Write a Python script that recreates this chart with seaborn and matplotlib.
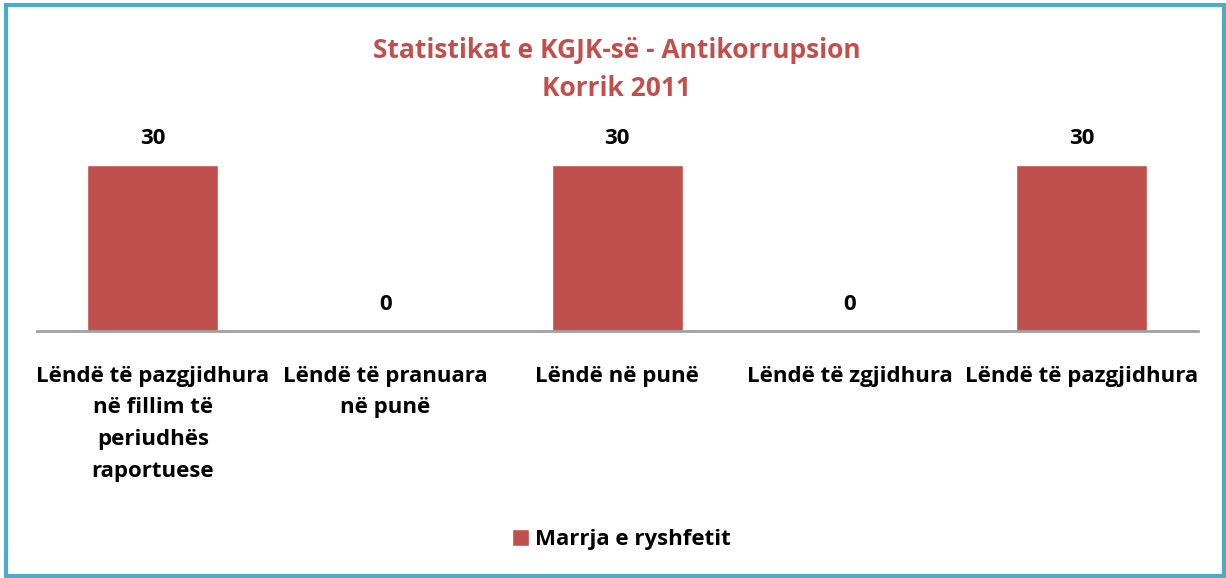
import pandas as pd
import matplotlib.pyplot as plt
import seaborn as sns
from matplotlib.patches import Rectangle

categories = [
    "Lëndë të pazgjidhura\nnë fillim të\nperiudhës\nraportuese",
    "Lëndë të pranuara\nnë punë",
    "Lëndë në punë",
    "Lëndë të zgjidhura",
    "Lëndë të pazgjidhura",
]
values = [30, 0, 30, 0, 30]
series_name = "Marrja e ryshfetit"

bar_color = "#C0504D"
frame_color = "#4BACC6"

sns.set_style("white")
plt.rcParams['font.family'] = ['Open Sans', 'DejaVu Sans']
plt.rcParams['text.color'] = 'black'
plt.rcParams['xtick.color'] = 'black'

df = pd.DataFrame({"Category": categories, "Value": values, "Series": series_name})

fig = plt.figure(figsize=(12.26, 5.78), dpi=100)
ax = fig.add_axes([0.030, 0.427, 0.947, 0.287])

sns.barplot(data=df, x="Category", y="Value", hue="Series", palette=[bar_color],
            width=0.565, ax=ax, saturation=1)

ax.set_ylim(0, 30)
ax.set_xlim(-0.5, 4.5)
ax.set_yticks([])
ax.set_xlabel("")
ax.set_ylabel("")
for s in ["top", "right", "left"]:
    ax.spines[s].set_visible(False)
ax.spines["bottom"].set_color("#A0A0A0")
ax.spines["bottom"].set_linewidth(2)
ax.tick_params(axis="x", length=0, pad=25)
for lbl in ax.get_xticklabels():
    lbl.set_fontsize(16)
    lbl.set_fontweight("bold")
    lbl.set_color("black")
    lbl.set_linespacing(1.66)
    lbl.set_verticalalignment("top")

for i, v in enumerate(values):
    ax.annotate(str(v), (i, v), xytext=(0, 12), textcoords="offset points",
                ha="center", va="bottom", fontsize=16, fontweight="bold",
                color="black", clip_on=False)

fig.text(0.503, 0.880, "Statistikat e KGJK-së - Antikorrupsion\nKorrik 2011",
         ha="center", va="center", fontsize=19, fontweight="bold", color=bar_color,
         linespacing=1.5)

ax.legend_.remove()
leg = fig.legend(handles=ax.patches[:1], labels=[series_name], loc="center",
                 bbox_to_anchor=(0.507, 0.066), frameon=False,
                 prop={"size": 16, "weight": "bold"}, handlelength=0.75, handleheight=0.75,
                 handletextpad=0.3)

fig.patches.append(Rectangle((0.005, 0.003), 0.993, 0.988, transform=fig.transFigure,
                             fill=False, edgecolor=frame_color, linewidth=3))

fig.savefig("out.png", dpi=100)
